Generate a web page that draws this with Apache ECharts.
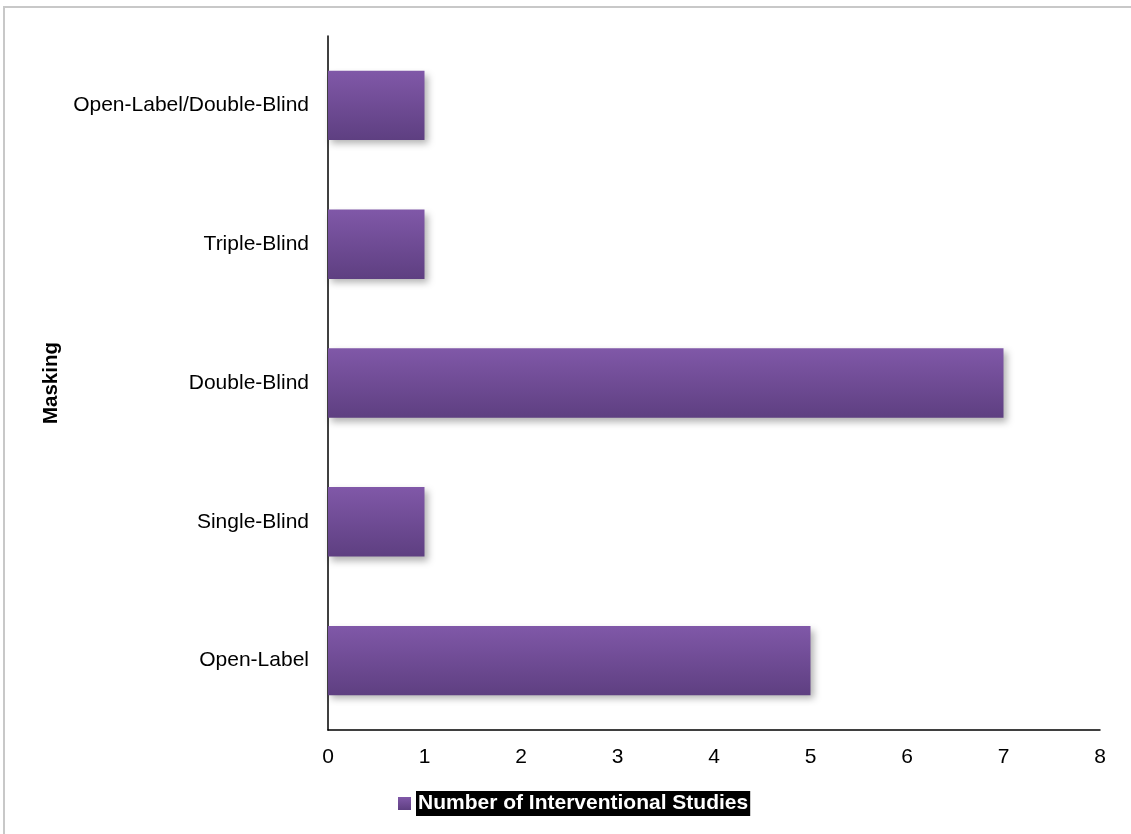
<!DOCTYPE html>
<html>
<head>
<meta charset="utf-8">
<script src="https://cdn.jsdelivr.net/npm/echarts@6/dist/echarts.min.js"></script>
<style>
  html, body { margin: 0; padding: 0; background: #fff; }
  #chart { width: 1131px; height: 834px; }
</style>
</head>
<body>
<div id="chart"></div>
<script>
// Masking categories, listed bottom to top
const categories = ['Open-Label', 'Single-Blind', 'Double-Blind', 'Triple-Blind', 'Open-Label/Double-Blind'];
// Number of interventional studies per masking type
const studyCounts = [5, 1, 7, 1, 1];
const seriesName = 'Number of Interventional Studies';
const xTicks = [0, 1, 2, 3, 4, 5, 6, 7, 8];

const chart = echarts.init(document.getElementById('chart'), null, { renderer: 'canvas' });
const font = 'Liberation Sans, Arial, Helvetica, sans-serif';

const barFill = new echarts.graphic.LinearGradient(0, 0, 0, 1, [
  { offset: 0, color: '#8058a8' },
  { offset: 1, color: '#5e3f81' }
]);

chart.setOption({
  animation: false,
  backgroundColor: '#ffffff',
  textStyle: { fontFamily: font },
  graphic: [{
    type: 'rect',
    shape: { x: 4, y: 7, width: 1200, height: 900 },
    style: { fill: 'none', stroke: '#c8c8c8', lineWidth: 2 },
    silent: true
  }],
  grid: { left: 328, right: 31, top: 36, bottom: 104, containLabel: false },
  legend: {
    data: [seriesName],
    left: 393,
    top: 786,
    icon: 'rect',
    itemWidth: 13,
    itemHeight: 13,
    textStyle: {
      fontFamily: font,
      fontSize: 21,
      fontWeight: 'bold',
      color: '#ffffff',
      backgroundColor: '#000000',
      padding: [2, 2, 2, 2]
    }
  },
  xAxis: {
    type: 'value',
    min: xTicks[0],
    max: xTicks[xTicks.length - 1],
    interval: 1,
    axisLine: { show: true, lineStyle: { color: '#000', width: 1.5 } },
    axisTick: { show: false },
    splitLine: { show: false },
    axisLabel: { color: '#000', fontSize: 21, margin: 17, fontFamily: font }
  },
  yAxis: {
    type: 'category',
    data: categories,
    name: 'Masking',
    nameLocation: 'middle',
    nameGap: 266,
    nameRotate: 90,
    nameTextStyle: { fontSize: 20.5, fontWeight: 'bold', color: '#000', fontFamily: font },
    axisLine: { show: true, lineStyle: { color: '#000', width: 1.5 } },
    axisTick: { show: false },
    splitLine: { show: false },
    axisLabel: { color: '#000', fontSize: 21, margin: 19, fontFamily: font }
  },
  series: [{
    name: seriesName,
    type: 'bar',
    data: studyCounts,
    barWidth: '50%',
    itemStyle: {
      color: barFill,
      shadowColor: 'rgba(0,0,0,0.3)',
      shadowBlur: 7,
      shadowOffsetX: 3,
      shadowOffsetY: 4
    }
  }]
});
</script>
</body>
</html>
